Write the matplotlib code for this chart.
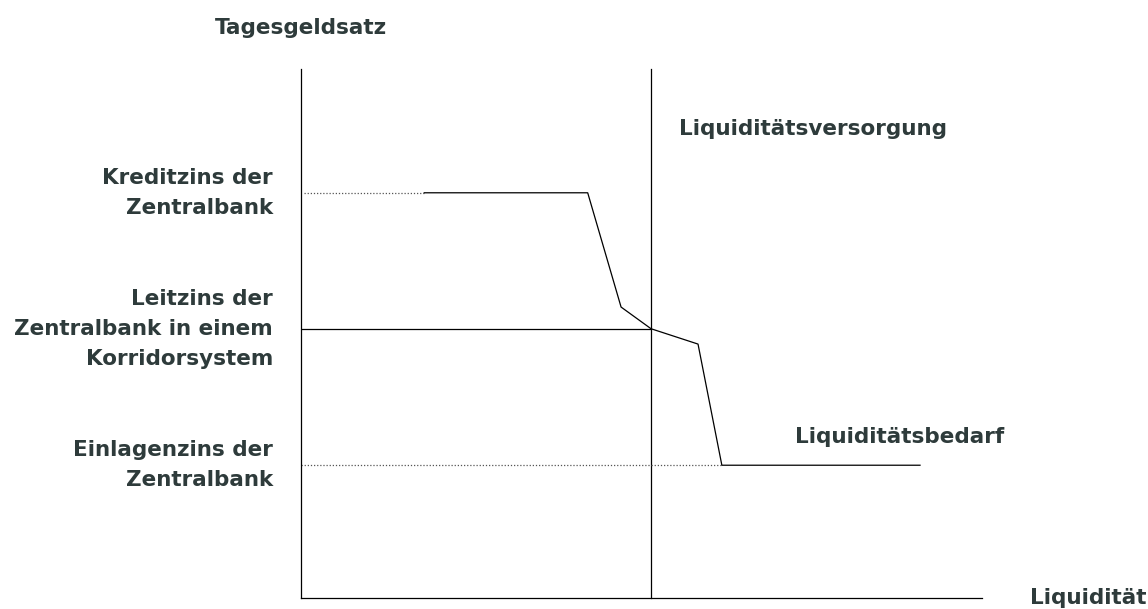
import matplotlib
matplotlib.use("Agg")
import matplotlib.pyplot as plt

# Data (liquidity on x, overnight rate on y; arbitrary units 0..100)
supply_x = 51.4
rate_credit = 76.6
rate_policy = 50.9
rate_deposit = 25.1
demand_x = [18.1, 42.1, 47.0, 51.4, 58.3, 61.8, 90.9]
demand_y = [76.6, 76.6, 55.0, 50.9, 48.0, 25.1, 25.1]

label_credit = "Kreditzins der\nZentralbank"
label_policy = "Leitzins der\nZentralbank in einem\nKorridorsystem"
label_deposit = "Einlagenzins der\nZentralbank"

txt_color = "#2e3b3b"
plt.rcParams['font.family'] = ['DejaVu Sans']

fig = plt.figure(figsize=(11.48, 6.09), dpi=100)
ax = fig.add_axes([301/1148, 1-598/609, 681/1148, 529/609])
ax.set_xlim(0, 100)
ax.set_ylim(0, 100)
for s in ['top', 'right']:
    ax.spines[s].set_visible(False)
for s in ['left', 'bottom']:
    ax.spines[s].set_linewidth(0.9)
ax.set_xticks([])
ax.set_yticks([])

lw = 0.9
# supply (vertical)
ax.plot([supply_x, supply_x], [0, 100], color='black', lw=lw, clip_on=False)
# policy rate horizontal
ax.plot([0, supply_x], [rate_policy, rate_policy], color='black', lw=lw)
# dotted guide lines
ax.plot([0.4, demand_x[0]], [rate_credit, rate_credit], color='#555555', lw=lw, ls=(0, (1, 1.5)))
ax.plot([0, demand_x[5]], [rate_deposit, rate_deposit], color='#555555', lw=lw, ls=(0, (1, 1.5)))
# demand curve
ax.plot(demand_x, demand_y, color='black', lw=lw)

fs = 15.5
tk = dict(color=txt_color, fontsize=fs, fontweight='bold', clip_on=False, linespacing=1.62)
ax.text(0, 1.0 + 41/529, "Tagesgeldsatz", transform=ax.transAxes, ha='center', va='center', **tk)
ax.text(-28/6.81, rate_credit, label_credit, ha='right', va='center', multialignment='right', **tk)
ax.text(-28/6.81, rate_policy, label_policy, ha='right', va='center', multialignment='right', **tk)
ax.text(-28/6.81, rate_deposit, label_deposit, ha='right', va='center', multialignment='right', **tk)
ax.text(supply_x + 28/6.81, (598-129)/5.29, "Liquiditätsversorgung", ha='left', va='center', **tk)
ax.text((795-301)/6.81, (598-437)/5.29, "Liquiditätsbedarf", ha='left', va='center', **tk)
ax.text((1146-301)/6.81, 0, "Liquidität", ha='right', va='center', **tk)

fig.savefig("out.png", dpi=100)
